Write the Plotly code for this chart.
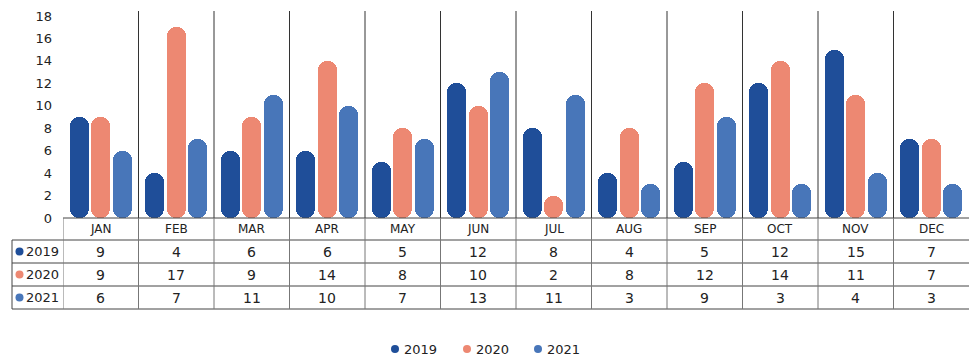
import plotly.graph_objects as go

# Monthly counts per year
months = ["JAN", "FEB", "MAR", "APR", "MAY", "JUN", "JUL", "AUG", "SEP", "OCT", "NOV", "DEC"]
years = ["2019", "2020", "2021"]
values_2019 = [9, 4, 6, 6, 5, 12, 8, 4, 5, 12, 15, 7]
values_2020 = [9, 17, 9, 14, 8, 10, 2, 8, 12, 14, 11, 7]
values_2021 = [6, 7, 11, 10, 7, 13, 11, 3, 9, 3, 4, 3]
y_ticks = [0, 2, 4, 6, 8, 10, 12, 14, 16, 18]

series = [values_2019, values_2020, values_2021]
colors = ["#1F4E99", "#ED8872", "#4876B9"]

FONT = "DejaVu Sans, Verdana, sans-serif"
TXT = "#222222"

# plot-area geometry (pixels) used to place the data table below the axis
W, H = 971, 360
L, R, T, B = 63, 2, 11, 142
plot_h = H - T - B
base_px = H - B


def py(pix):
    """pixel row -> paper y"""
    return (base_px - pix) / plot_h


def px(pix):
    """pixel column -> paper x"""
    return (pix - L) / (W - L - R)


def dot(cx, cy, color, d=8):
    """small filled circle of fixed pixel size at a paper position"""
    return dict(type="circle", xref="paper", yref="paper", xsizemode="pixel", ysizemode="pixel",
                xanchor=px(cx), yanchor=py(cy), x0=-d / 2, x1=d / 2, y0=-d / 2, y1=d / 2,
                fillcolor=color, line=dict(width=0))


fig = go.Figure()

bar_w = 0.25
offsets = [-0.41, -0.125, 0.16]
x_idx = list(range(len(months)))

# an explicit base makes the bars round at both ends
for name, vals, col, off in zip(years, series, colors, offsets):
    fig.add_trace(go.Bar(
        x=x_idx, y=vals, base=[0] * len(vals), name=name,
        width=bar_w, offset=off,
        marker=dict(color=col, line=dict(width=0), cornerradius="50%"),
        hovertemplate="%{y}<extra>" + name + "</extra>",
    ))

shapes = []
annotations = []

# column separators through the chart area
for i in range(len(months) - 1):
    shapes.append(dict(type="line", xref="x", yref="paper", x0=i + 0.5, x1=i + 0.5,
                       y0=py(T), y1=py(218), line=dict(color="#333333", width=1)))

# table rows (pixel rows of the horizontal rules)
row_lines = [218, 240, 263, 286, 309]
table_left = 12
table_right = W - R

shapes.append(dict(type="line", xref="paper", yref="paper", x0=px(L), x1=px(table_right),
                   y0=py(row_lines[0]), y1=py(row_lines[0]), line=dict(color="#444444", width=1)))
for r in row_lines[1:]:
    shapes.append(dict(type="line", xref="paper", yref="paper", x0=px(table_left), x1=px(table_right),
                       y0=py(r), y1=py(r), line=dict(color="#444444", width=1)))

# vertical rules inside the table
for i in range(len(months)):
    shapes.append(dict(type="line", xref="x", yref="paper", x0=i - 0.5, x1=i - 0.5,
                       y0=py(row_lines[0]), y1=py(row_lines[-1]), line=dict(color="#777777", width=1)))
shapes.append(dict(type="line", xref="paper", yref="paper", x0=px(table_left), x1=px(table_left),
                   y0=py(row_lines[1]), y1=py(row_lines[-1]), line=dict(color="#444444", width=1)))

# month header
for i, m in enumerate(months):
    annotations.append(dict(x=i, y=py((row_lines[0] + row_lines[1]) / 2), xref="x", yref="paper",
                            text=m, showarrow=False, font=dict(size=12, color=TXT, family=FONT),
                            xanchor="center", yanchor="middle"))

# row labels and values
for k, (name, vals, col) in enumerate(zip(years, series, colors)):
    yc_px = (row_lines[k + 1] + row_lines[k + 2]) / 2
    yc = py(yc_px)
    shapes.append(dot(19.5, yc_px, col))
    annotations.append(dict(x=px(24), y=yc, xref="paper", yref="paper",
                            text=name, showarrow=False, xshift=0,
                            font=dict(size=13, color=TXT, family=FONT), xanchor="left", yanchor="middle"))
    for i, v in enumerate(vals):
        annotations.append(dict(x=i, y=yc, xref="x", yref="paper", text=str(v), showarrow=False,
                                font=dict(size=14, color=TXT, family=FONT),
                                xanchor="center", yanchor="middle"))

# legend row under the table
legend_y = 349
legend_x = [395, 467, 538]
for name, col, lx in zip(years, colors, legend_x):
    shapes.append(dot(lx, legend_y, col, d=8))
    annotations.append(dict(x=px(lx + 7), y=py(legend_y), xref="paper", yref="paper", text=name,
                            showarrow=False, font=dict(size=13, color=TXT, family=FONT),
                            xanchor="left", yanchor="middle"))

fig.update_layout(
    width=W, height=H,
    margin=dict(l=L, r=R, t=T, b=B, autoexpand=False),
    paper_bgcolor="white", plot_bgcolor="white",
    barmode="overlay", bargap=0, showlegend=False,
    font=dict(family=FONT, color=TXT, size=13),
    xaxis=dict(range=[-0.5, len(months) - 0.5], showticklabels=False, showgrid=False,
               zeroline=False, showline=False, fixedrange=True),
    yaxis=dict(range=[0, 18.45], tickvals=y_ticks, showgrid=False, zeroline=False,
               showline=False, ticks="", ticklabelstandoff=10,
               tickfont=dict(size=13, color=TXT, family=FONT), fixedrange=True),
    shapes=shapes,
    annotations=annotations,
)

fig.write_html("out.html")
